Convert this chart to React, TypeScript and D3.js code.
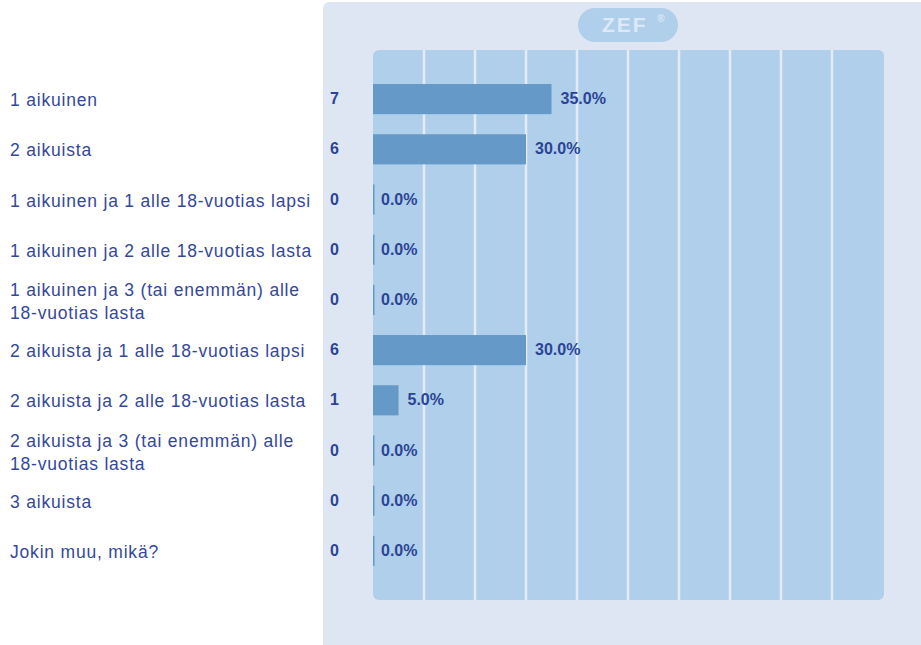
import React from "react";
import * as d3 from "d3";

const categories: string[][] = [
  ["1 aikuinen"],
  ["2 aikuista"],
  ["1 aikuinen ja 1 alle 18-vuotias lapsi"],
  ["1 aikuinen ja 2 alle 18-vuotias lasta"],
  ["1 aikuinen ja 3 (tai enemmän) alle", "18-vuotias lasta"],
  ["2 aikuista ja 1 alle 18-vuotias lapsi"],
  ["2 aikuista ja 2 alle 18-vuotias lasta"],
  ["2 aikuista ja 3 (tai enemmän) alle", "18-vuotias lasta"],
  ["3 aikuista"],
  ["Jokin muu, mikä?"],
];
const counts: number[] = [7, 6, 0, 0, 0, 6, 1, 0, 0, 0];
const percents: number[] = [35.0, 30.0, 0.0, 0.0, 0.0, 30.0, 5.0, 0.0, 0.0, 0.0];
const gridTicks: number[] = [10, 20, 30, 40, 50, 60, 70, 80, 90];

export default function App() {
  const W = 921;
  const H = 645;
  const plotL = 373;
  const plotR = 884;
  const plotT = 50;
  const plotB = 600;
  const x = d3.scaleLinear().domain([0, 100]).range([plotL, plotL + 510]);
  const ids = categories.map((_, i) => String(i));
  const y = d3
    .scaleBand<string>()
    .domain(ids)
    .range([74, 576])
    .paddingInner(0.4)
    .paddingOuter(0.2);
  const labelColor = "#34489a";
  const font = "'Liberation Sans', Arial, sans-serif";
  const labelSize = 17.5;
  const labelSpacing = 0.8;

  return (
    <svg
      width={W}
      height={H}
      style={{ position: "absolute", left: 0, top: 0, background: "#ffffff" }}
      fontFamily={font}
    >
      <rect x={323} y={2} width={W - 323 + 10} height={H + 10} rx={6} fill="#dfe6f3" />
      <rect x={plotL} y={plotT} width={plotR - plotL} height={plotB - plotT} rx={6} fill="#afcfeb" />
      {gridTicks.map((t) => (
        <line
          key={t}
          x1={x(t)}
          x2={x(t)}
          y1={plotT}
          y2={plotB}
          stroke="#e4ebf6"
          strokeWidth={2.5}
        />
      ))}
      {/* ZEF badge */}
      <rect x={578} y={8} width={100} height={34} rx={17} fill="#afcfeb" />
      <text x={602} y={32} fontSize={21} fontWeight="bold" letterSpacing={2} fill="#dde9f6">
        ZEF
      </text>
      <text x={661} y={22} textAnchor="middle" fontSize={10} fontWeight="bold" fill="#dde9f6">
        ®
      </text>
      {categories.map((lines, i) => {
        const yc = (y(String(i)) as number) + y.bandwidth() / 2;
        const w = Math.max(x(percents[i]) - x(0), 1.5);
        const end = x(0) + w;
        return (
          <g key={i}>
            {lines.length === 1 ? (
              <text x={10} y={yc + 7} fontSize={labelSize} letterSpacing={labelSpacing} fill={labelColor}>
                {lines[0]}
              </text>
            ) : (
              <text x={10} y={yc - 4} fontSize={labelSize} letterSpacing={labelSpacing} fill={labelColor}>
                <tspan x={10}>{lines[0]}</tspan>
                <tspan x={10} dy={23.5}>
                  {lines[1]}
                </tspan>
              </text>
            )}
            <text x={330} y={yc + 5} fontSize={16} fontWeight="bold" fill="#2b4495">
              {counts[i]}
            </text>
            <rect
              x={x(0)}
              y={y(String(i)) as number}
              width={w}
              height={y.bandwidth()}
              fill="#6499c8"
            />
            <text
              x={end + (percents[i] > 0 ? 9 : 6.5)}
              y={yc + 5}
              fontSize={16}
              fontWeight="bold"
              fill="#2b4495"
            >
              {percents[i].toFixed(1) + "%"}
            </text>
          </g>
        );
      })}
    </svg>
  );
}
